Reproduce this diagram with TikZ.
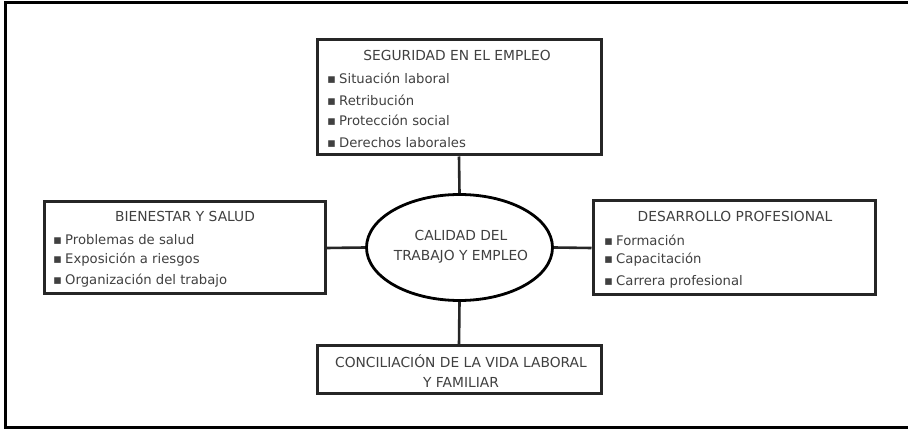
\documentclass[tikz,border=0pt]{standalone}
\usepackage{fontspec}
\setmainfont{DejaVu Sans}
\usetikzlibrary{shapes.geometric}
\begin{document}
\begin{tikzpicture}[x=1pt,y=-1pt,
  box/.style={draw=black!85,line width=3pt,inner sep=0pt,fill=white},
  oval/.style={ellipse,draw=black,line width=2.8pt,inner sep=0pt,minimum width=186pt,minimum height=106pt},
  link/.style={draw=black!85,line width=2.6pt},
  frame/.style={draw=black,line width=3pt},
  hd/.style={text=black!75,inner sep=0pt,font=\fontsize{13.8}{16}\selectfont},
  it/.style={text=black!75,inner sep=0pt,anchor=west,font=\fontsize{13.2}{16}\selectfont},
  ctr/.style={text=black!75,inner sep=0pt,align=center,font=\fontsize{13.8}{20}\selectfont}]
\useasboundingbox (0,0) rectangle (908,430);
\fill[white] (0,0) rectangle (908,430);
\draw[frame] (908,3) -- (5,3) -- (5,427) -- (908,427);

% boxes
\node[box,minimum width=284pt,minimum height=115pt] (seg) at (459,97.5) {};
\node[box,minimum width=281pt,minimum height=92pt] (bien) at (184.5,248) {};
\node[box,minimum width=282pt,minimum height=94pt] (des) at (734,248) {};
\node[box,minimum width=284pt,minimum height=47pt] (con) at (459,369.5) {};
\node[oval] (cal) at (459.5,247.5) {};

% connectors
\draw[link] (seg.south) -- (cal.north);
\draw[link] (cal.south) -- (con.north);
\draw[link] (bien.east) -- (cal.west);
\draw[link] (cal.east) -- (des.west);

% top box texts
\node[hd] (segh) at (457,55) {SEGURIDAD EN EL EMPLEO};
\node[it] (seg1) at (327,78) {\makebox[12pt][l]{▪}Situación laboral};
\node[it] (seg2) at (327,100) {\makebox[12pt][l]{▪}Retribución};
\node[it] (seg3) at (327,120) {\makebox[12pt][l]{▪}Protección social};
\node[it] (seg4) at (327,143) {\makebox[12pt][l]{▪}Derechos laborales};

% left box texts
\node[hd] (bienh) at (185,216) {BIENESTAR Y SALUD};
\node[it] (bien1) at (53,240) {\makebox[12pt][l]{▪}Problemas de salud};
\node[it] (bien2) at (53,260) {\makebox[12pt][l]{▪}Exposición a riesgos};
\node[it] (bien3) at (53,281) {\makebox[12pt][l]{▪}Organización del trabajo};

% right box texts
\node[hd] (desh) at (735,216) {DESARROLLO PROFESIONAL};
\node[it] (des1) at (604,240) {\makebox[12pt][l]{▪}Formación};
\node[it] (des2) at (604,260) {\makebox[12pt][l]{▪}Capacitación};
\node[it] (des3) at (604,282) {\makebox[12pt][l]{▪}Carrera profesional};

% ellipse text
\node[ctr] (calt) at (461,247) {CALIDAD DEL\\TRABAJO Y EMPLEO};

% bottom box text
\node[ctr] (cont) at (461,371) {CONCILIACIÓN DE LA VIDA LABORAL\\Y FAMILIAR};
\end{tikzpicture}
\end{document}
